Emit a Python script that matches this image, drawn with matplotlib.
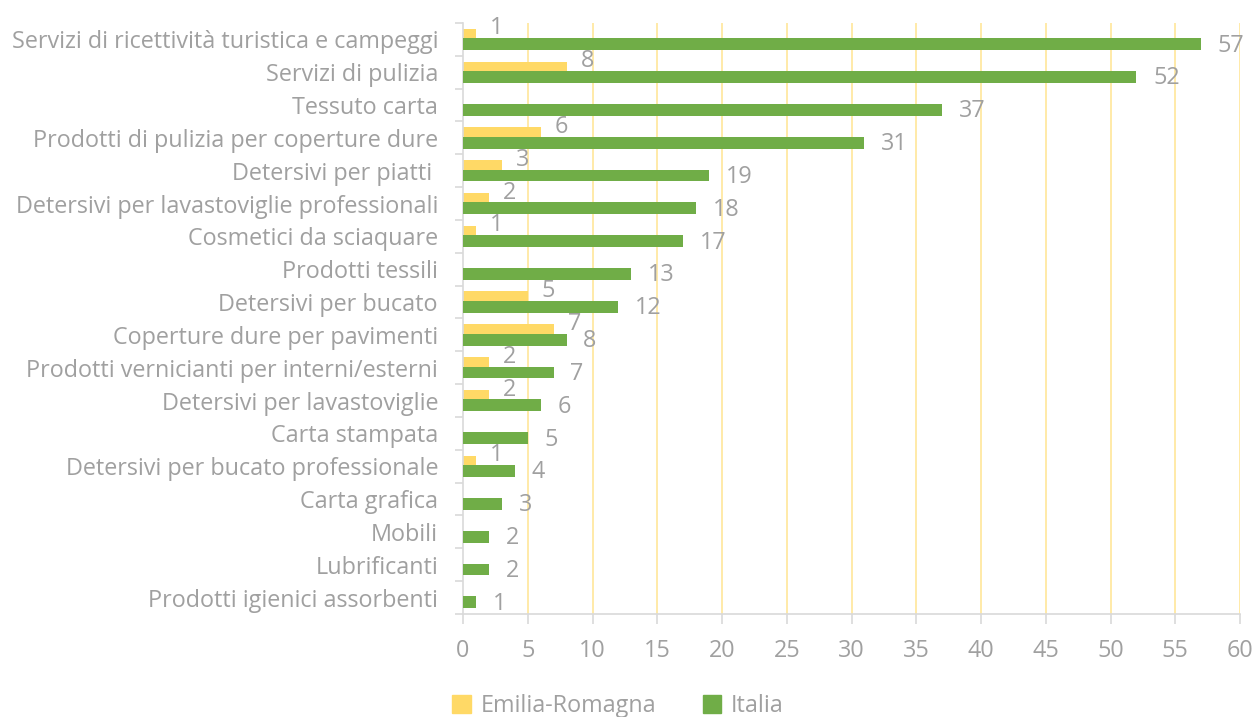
import matplotlib
matplotlib.use("Agg")
import matplotlib.pyplot as plt
from matplotlib.patches import Patch
import numpy as np

categories = [
    "Servizi di ricettività turistica e campeggi",
    "Servizi di pulizia",
    "Tessuto carta",
    "Prodotti di pulizia per coperture dure",
    "Detersivi per piatti ",
    "Detersivi per lavastoviglie professionali",
    "Cosmetici da sciaquare",
    "Prodotti tessili",
    "Detersivi per bucato",
    "Coperture dure per pavimenti",
    "Prodotti vernicianti per interni/esterni",
    "Detersivi per lavastoviglie",
    "Carta stampata",
    "Detersivi per bucato professionale",
    "Carta grafica",
    "Mobili",
    "Lubrificanti",
    "Prodotti igienici assorbenti",
]
emilia = [1, 8, 0, 6, 3, 2, 1, 0, 5, 7, 2, 2, 0, 1, 0, 0, 0, 0]
italia = [57, 52, 37, 31, 19, 18, 17, 13, 12, 8, 7, 6, 5, 4, 3, 2, 2, 1]
series_names = ["Emilia-Romagna", "Italia"]
xticks = list(range(0, 61, 5))

FONT = ["Open Sans", "DejaVu Sans"]
plt.rcParams["font.family"] = FONT
GRAY = "#A0A0A0"
YELLOW = "#FFD966"
GREEN = "#70AD47"
GRID = "#FFE699"
AXIS = "#D9D9D9"
FS = 16.8

fig = plt.figure(figsize=(12.56, 7.17), dpi=100)
ax = fig.add_axes([463/1256, 1 - 614/717, (1240 - 463)/1256, (614 - 23)/717])

y = np.arange(len(categories))
h = 0.36
off = 0.145
ax.barh(y - off, emilia, height=h, color=YELLOW, zorder=2)
ax.barh(y + off, italia, height=h, color=GREEN, zorder=3)

for yi, v in zip(y, emilia):
    if v > 0:
        ax.annotate(str(v), (v, yi - off), xytext=(10, 4.5), textcoords="offset points",
                    ha="left", va="center", color=GRAY, fontsize=FS, zorder=4)
for yi, v in zip(y, italia):
    ax.annotate(str(v), (v, yi + off), xytext=(12, -1), textcoords="offset points",
                ha="left", va="center", color=GRAY, fontsize=FS, zorder=4)

ax.set_xlim(0, 60)
ax.set_ylim(len(categories) - 0.5, -0.5)
ax.set_xticks(xticks)
ax.set_xticklabels([str(t) for t in xticks])
ax.set_yticks(y)
ax.set_yticklabels(categories)
ax.set_yticks(np.arange(len(categories) + 1) - 0.5, minor=True)

for t in xticks[1:]:
    ax.axvline(t, color=GRID, lw=1.2, zorder=1)

for s in ["top", "right"]:
    ax.spines[s].set_visible(False)
for s in ["left", "bottom"]:
    ax.spines[s].set_color(AXIS)
    ax.spines[s].set_linewidth(1.2)

ax.tick_params(axis="y", which="major", length=0, pad=18, labelsize=FS, labelcolor=GRAY)
ax.tick_params(axis="y", which="minor", length=6, color=AXIS, width=1.2)
ax.tick_params(axis="x", which="major", length=7, color=AXIS, width=1.2, pad=11,
               labelsize=FS, labelcolor=GRAY)

handles = [Patch(color=YELLOW), Patch(color=GREEN)]
leg = fig.legend(handles, series_names, loc="center", bbox_to_anchor=(618/1256, 1 - 706/717),
                 ncol=2, frameon=False, fontsize=FS, labelcolor=GRAY,
                 handlelength=0.8, handleheight=0.8, handletextpad=0.4, columnspacing=2.0)

fig.savefig("out.png", dpi=100)
